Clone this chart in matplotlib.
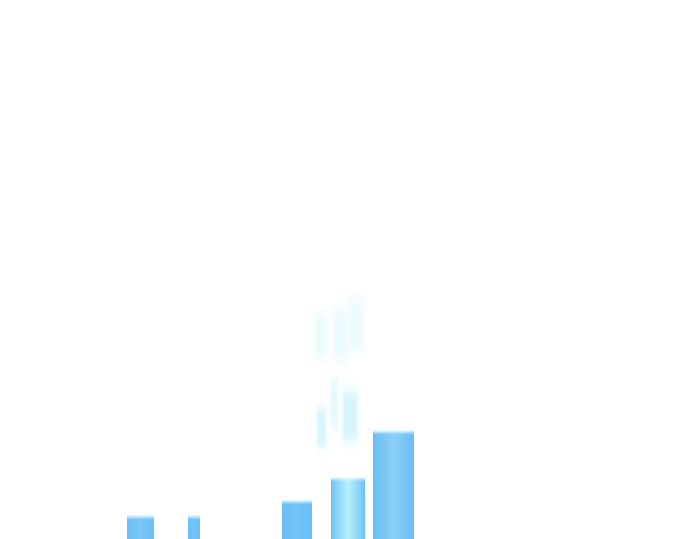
import numpy as np
import matplotlib
matplotlib.use("Agg")
import matplotlib.pyplot as plt
from matplotlib.colors import to_rgb

# ----------------------------
# Data (units: x 0..69, y 0..53.9)
# ----------------------------
bar_x = [14.05, 19.4, 29.7, 34.75, 39.35]
bar_width = [2.7, 1.2, 3.0, 3.3, 4.1]
bar_height = [2.1, 2.1, 3.7, 5.9, 10.7]

# faint "ghost" bars floating above (left, right, bottom, top)
ghost_left = [31.5, 33.3, 34.8, 31.8, 33.2, 34.2]
ghost_right = [32.7, 34.7, 36.5, 32.5, 33.7, 35.8]
ghost_bottom = [17.9, 17.9, 18.6, 9.4, 10.9, 9.6]
ghost_top = [22.6, 22.9, 24.2, 12.9, 16.2, 14.9]

# ----------------------------
# Styles
# ----------------------------
base_color = "#6cbff6"
center_color = ["#7cc7f7", "#74c3f6", "#74c4f7", "#b2f2fb", "#8dd0f7"]
center_spread = [1.5, 1.5, 1.5, 0.8, 1.2]
ghost_color = ["#dcf8fd", "#d9f6fd", "#dcf8fd", "#c8f2fb", "#d3f5fc", "#c8f2fb"]
ghost_alpha = [0.5, 0.55, 0.5, 0.75, 0.55, 0.7]

fig = plt.figure(figsize=(6.9, 5.39), dpi=100)
ax = fig.add_axes([0, 0, 1, 1])
ax.set_xlim(0, 69)
ax.set_ylim(0, 53.9)
ax.axis("off")


def soft(n, edge):
    t = np.linspace(0, 1, n)
    return np.clip(np.minimum(t, 1 - t) / edge, 0, 1)


# ghost bars, soft edged
for l, r, b, t, c, a in zip(ghost_left, ghost_right, ghost_bottom, ghost_top,
                            ghost_color, ghost_alpha):
    pad_x, pad_y = 0.3, 0.8
    nx, ny = 30, 60
    img = np.ones((ny, nx, 4))
    img[:, :, :3] = to_rgb(c)
    img[:, :, 3] = a * soft(ny, 0.25)[:, None] * soft(nx, 0.3)[None, :]
    ax.imshow(img, extent=(l - pad_x, r + pad_x, b - pad_y, t + pad_y),
              origin="lower", aspect="auto", interpolation="bilinear", zorder=2)

# main bars with a soft gradient fill
bars = ax.bar(bar_x, bar_height, width=bar_width, color=base_color, linewidth=0)
for rect, cc, sp in zip(bars, center_color, center_spread):
    x0, y0 = rect.get_x(), rect.get_y()
    w, h = rect.get_width(), rect.get_height()
    nx, ny = 40, 120
    xs = np.linspace(-1, 1, nx)
    ys = np.linspace(0, 1, ny)
    edge = np.array(to_rgb(base_color))
    mid = np.array(to_rgb(cc))
    mix = (1 - np.abs(xs)) ** sp
    row = edge[None, :] * (1 - mix[:, None]) + mid[None, :] * mix[:, None]
    img = np.ones((ny, nx, 4))
    img[:, :, :3] = row[None, :, :]
    # pale cyan fade at the top edge
    top_band = 0.4 / h
    fade = np.clip((ys - (1 - top_band)) / top_band, 0, 1)
    tint = np.array(to_rgb("#e8fcff"))
    img[:, :, :3] = img[:, :, :3] * (1 - fade[:, None, None]) + tint * fade[:, None, None]
    img[:, :, 3] = 1
    rect.set_alpha(0)
    ax.imshow(img, extent=(x0, x0 + w, y0, y0 + h + 0.2), origin="lower",
              aspect="auto", interpolation="bilinear", zorder=3)

ax.set_xlim(0, 69)
ax.set_ylim(0, 53.9)

fig.savefig("out.png", dpi=100, facecolor="white")
plt.close(fig)
